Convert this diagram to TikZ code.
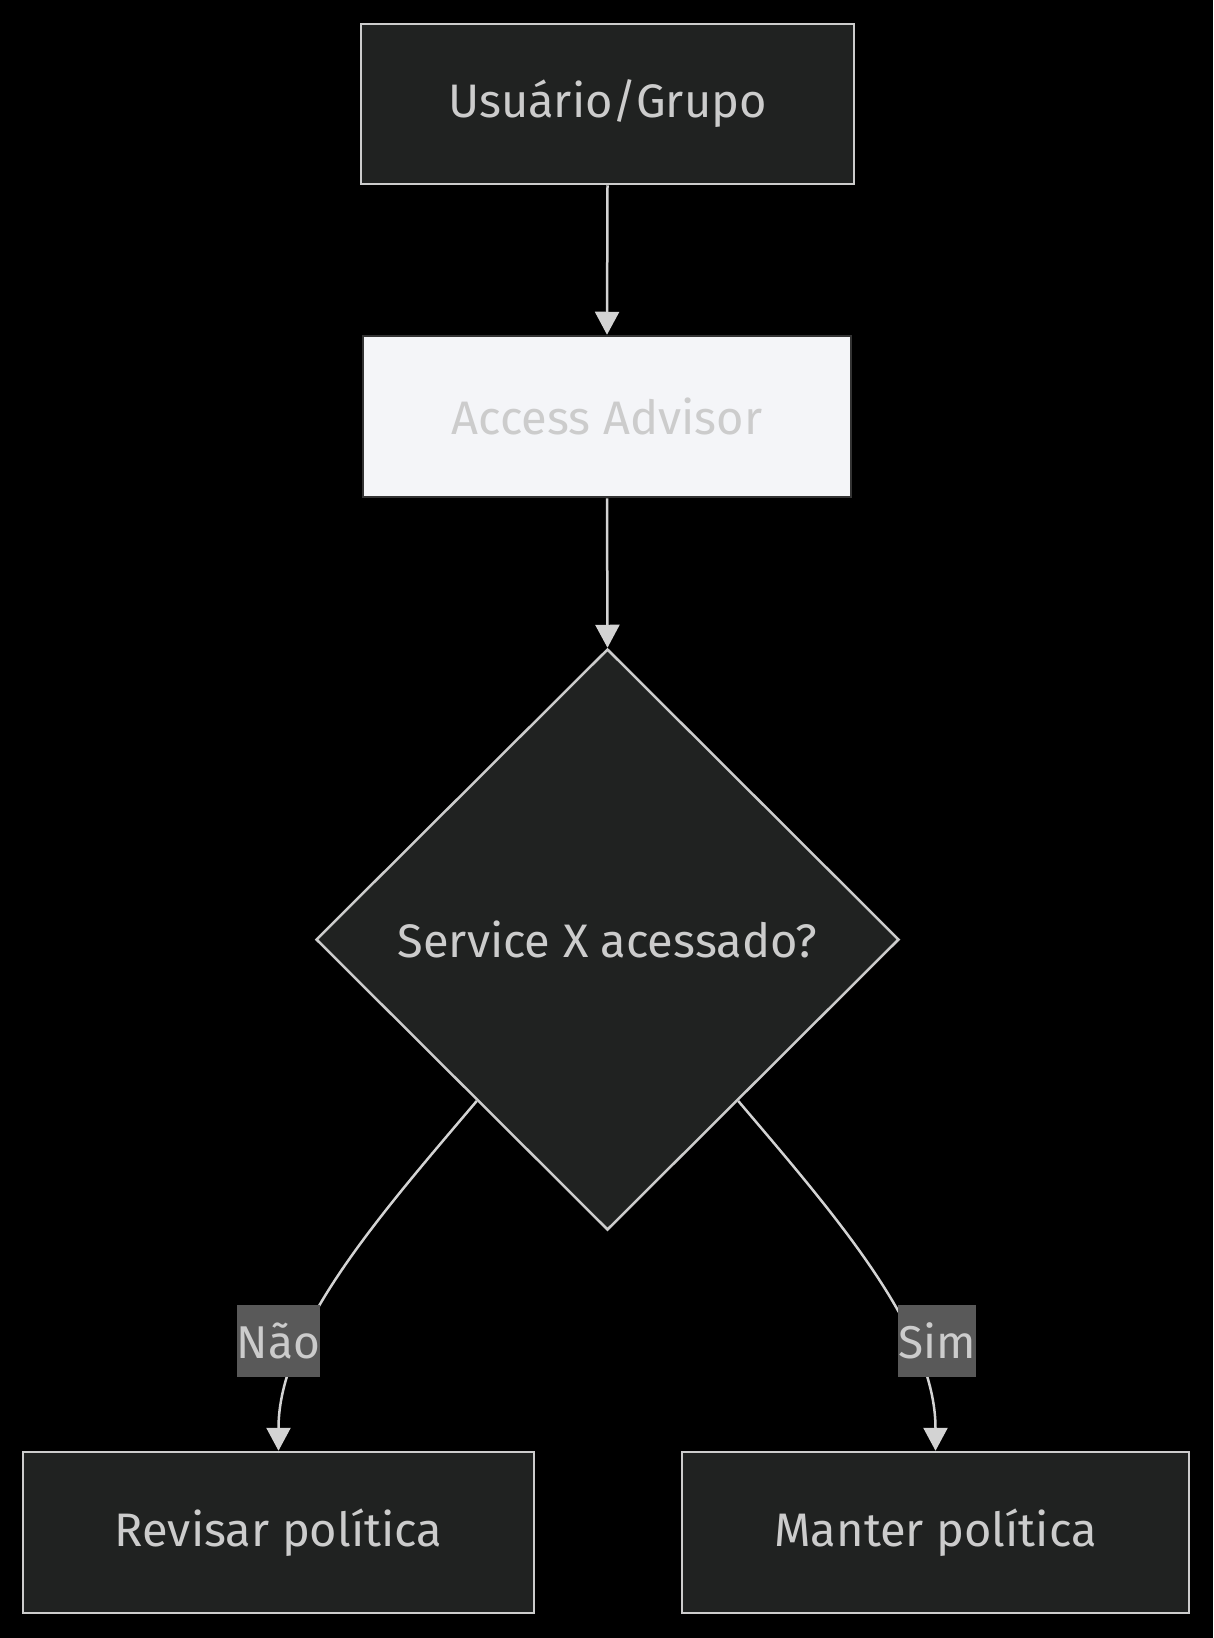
\documentclass[tikz,border=0pt]{standalone}
\usepackage{fontspec}
\setmainfont{Fira Sans}
\usetikzlibrary{arrows.meta,shapes.geometric}
\definecolor{bgc}{HTML}{000000}
\definecolor{nodefill}{HTML}{202221}
\definecolor{nodestroke}{HTML}{CCCCCC}
\definecolor{txt}{HTML}{CCCCCC}
\definecolor{lightfill}{HTML}{F4F5F8}
\definecolor{darkstroke}{HTML}{333333}
\definecolor{lblfill}{HTML}{595959}
\definecolor{edgec}{HTML}{D3D3D3}
\tikzset{
  box/.style={draw=nodestroke, fill=nodefill, line width=2.5pt, text=txt, inner sep=0pt,
    font=\fontsize{47}{55}\selectfont},
  lightbox/.style={draw=darkstroke, fill=lightfill, line width=2.5pt, text=txt, inner sep=0pt,
    font=\fontsize{47}{55}\selectfont},
  decision/.style={diamond, draw=nodestroke, fill=nodefill, line width=2.5pt, text=txt, inner sep=0pt,
    font=\fontsize{47}{55}\selectfont},
  lbl/.style={fill=lblfill, text=txt, inner sep=0pt, font=\fontsize{46}{54}\selectfont},
  edge/.style={draw=edgec, line width=2.5pt, -{Triangle[length=23pt,width=24pt]}}
}
\begin{document}
\begin{tikzpicture}[x=1pt,y=-1pt]
\fill[bgc] (0,0) rectangle (1213,1638);
\useasboundingbox (0,0) rectangle (1213,1638);
\node[box, minimum width=493pt, minimum height=160pt] (u) at (607.5,104) {Usuário/Grupo};
\node[lightbox, minimum width=488pt, minimum height=161pt] (a) at (607,416.5) {Access Advisor};
\node[decision, minimum width=583pt, minimum height=581pt] (d) at (607.5,939.5) {Service X acessado?};
\node[box, minimum width=511pt, minimum height=161pt] (r) at (278.5,1532.5) {Revisar política};
\node[box, minimum width=507pt, minimum height=161pt] (m) at (935.5,1532.5) {Manter política};
\draw[edge] (u.south) -- (a.north);
\draw[edge] (a.south) -- (d.north);
\draw[edge] (d.231) .. controls (380,1215) and (278.5,1330) .. (r.north);
\draw[edge] (d.309) .. controls (835,1215) and (935.5,1330) .. (m.north);
\node[lbl, minimum width=81pt, minimum height=72pt] (ln) at (278.5,1341) {Não};
\node[lbl, minimum width=78pt, minimum height=72pt] (ls) at (937,1341) {Sim};
\end{tikzpicture}
\end{document}
